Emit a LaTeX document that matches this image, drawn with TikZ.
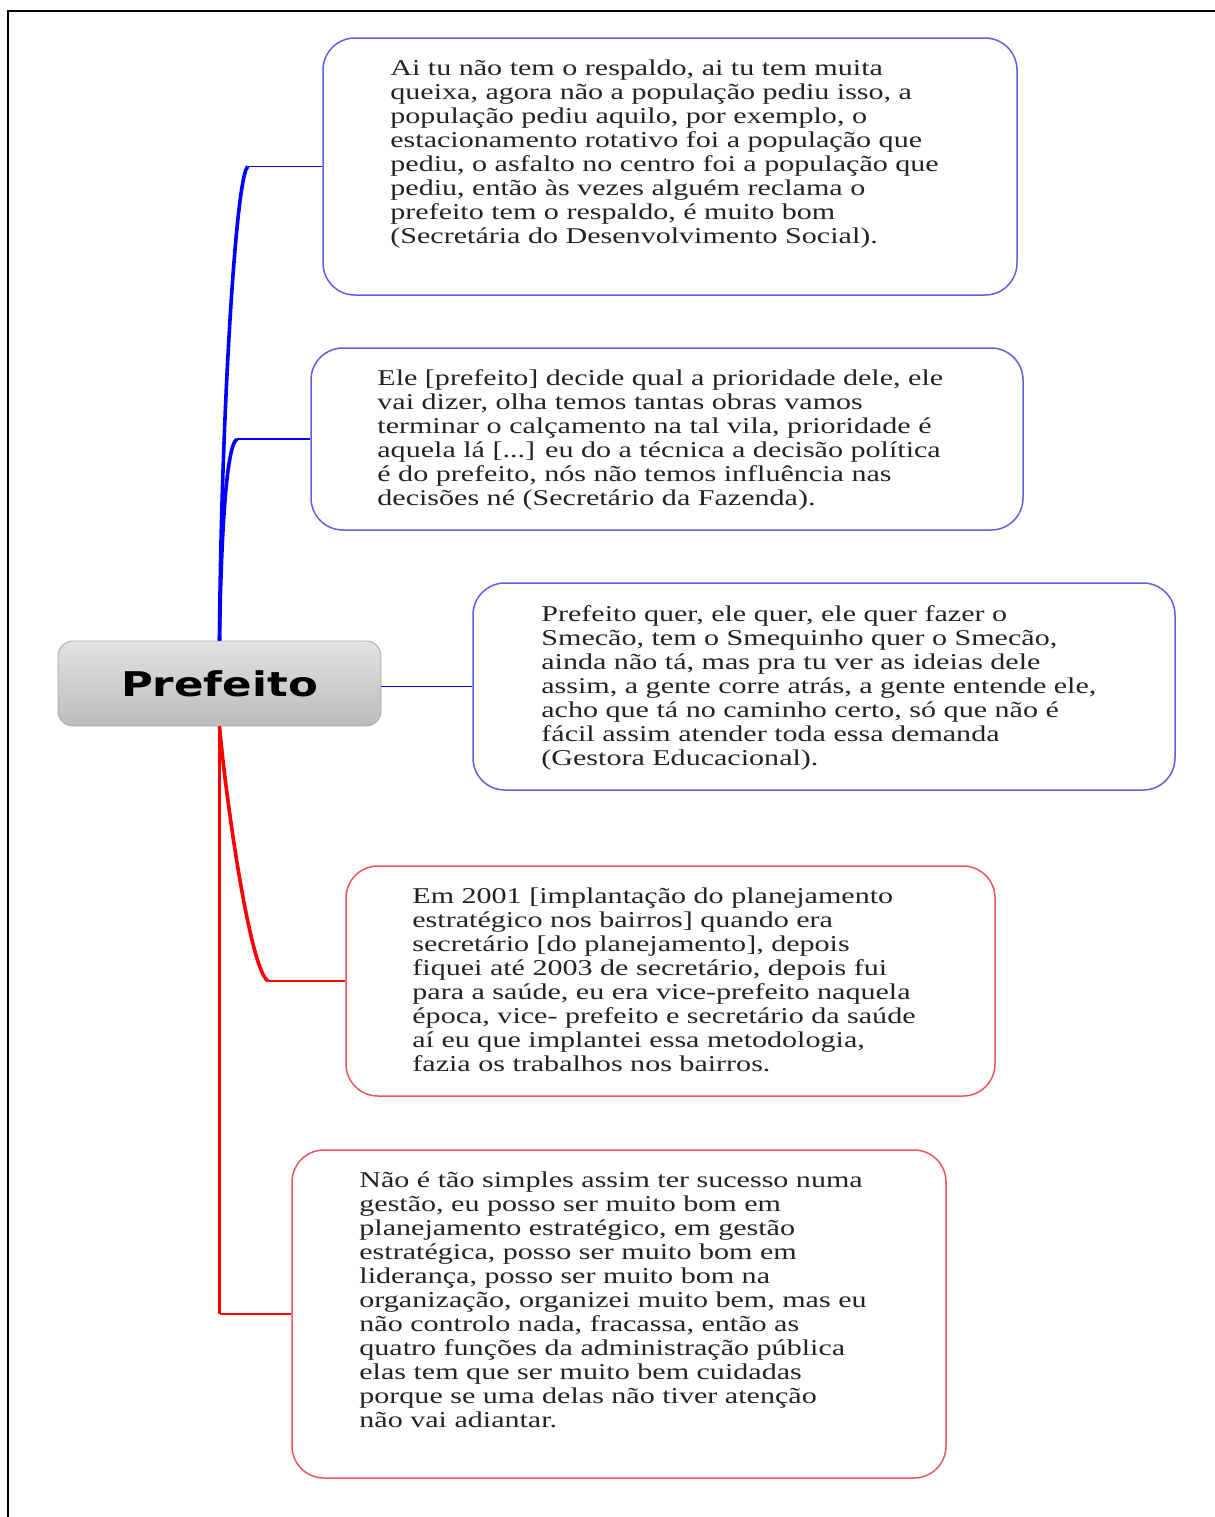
\documentclass[tikz,border=0pt]{standalone}
\usepackage{fontspec}
\setmainfont{Liberation Serif}
\newfontfamily\quotefont{Liberation Serif}[FakeStretch=1.33]
\newfontfamily\headfont{DejaVu Sans}[FakeStretch=1.28]
\definecolor{blu}{RGB}{0,0,255}
\definecolor{blb}{RGB}{95,95,225}
\definecolor{red}{RGB}{255,0,0}
\definecolor{reb}{RGB}{235,85,95}
\definecolor{txt}{RGB}{35,35,35}
\definecolor{grt}{RGB}{226,226,226}
\definecolor{grb}{RGB}{188,188,188}

\begin{document}
\begin{tikzpicture}[x=0.5pt,y=-0.5pt,
    quote/.style={font=\quotefont\fontsize{11.3}{12}\selectfont,text=txt,align=left,inner sep=0pt,anchor=north west},
    bbox/.style={draw=blb,line width=0.75pt,rounded corners=16pt},
    rbox/.style={draw=reb,line width=0.75pt,rounded corners=16pt},
    branch/.style={line width=1.8pt},
    stub/.style={line width=0.7pt}]
    \useasboundingbox (0,0) rectangle (1215,1517);
    \draw[line width=1pt] (8,1517) -- (8,11) -- (1215,11);
    %
    \node[draw=gray!70,rounded corners=7.5pt,top color=grt,bottom color=grb,
          minimum width=161.5pt,minimum height=42.5pt,
          font=\headfont\bfseries\fontsize{17}{20}\selectfont] (pref) at (219.5,683.5) {Prefeito};
    %
    \node[bbox,minimum width=347pt,minimum height=128.5pt] (B1) at (670,166.5) {};
    \node[bbox,minimum width=356pt,minimum height=91pt] (B2) at (667,439) {};
    \node[bbox,minimum width=351pt,minimum height=103.5pt] (B3) at (824,686.5) {};
    \node[rbox,minimum width=324.5pt,minimum height=115pt] (B4) at (670.5,981) {};
    \node[rbox,minimum width=327pt,minimum height=164pt] (B5) at (619,1314) {};
    %
    \node[quote] (Q1) at (390,59) {Ai tu não tem o respaldo, ai tu tem muita\\
        queixa, agora não a população pediu isso, a\\
        população pediu aquilo, por exemplo, o\\
        estacionamento rotativo foi a população que\\
        pediu, o asfalto no centro foi a população que\\
        pediu, então às vezes alguém reclama o\\
        prefeito tem o respaldo, é muito bom\\
        (Secretária do Desenvolvimento Social).};
    \node[quote] (Q2) at (377,369) {Ele [prefeito] decide qual a prioridade dele, ele\\
        vai dizer, olha temos tantas obras vamos\\
        terminar o calçamento na tal vila, prioridade é\\
        aquela lá [...] eu do a técnica a decisão política\\
        é do prefeito, nós não temos influência nas\\
        decisões né (Secretário da Fazenda).};
    \node[quote] (Q3) at (541,605) {Prefeito quer, ele quer, ele quer fazer o\\
        Smecão, tem o Smequinho quer o Smecão,\\
        ainda não tá, mas pra tu ver as ideias dele\\
        assim, a gente corre atrás, a gente entende ele,\\
        acho que tá no caminho certo, só que não é\\
        fácil assim atender toda essa demanda\\
        (Gestora Educacional).};
    \node[quote] (Q4) at (412,887) {Em 2001 [implantação do planejamento\\
        estratégico nos bairros] quando era\\
        secretário [do planejamento], depois\\
        fiquei até 2003 de secretário, depois fui\\
        para a saúde, eu era vice-prefeito naquela\\
        época, vice- prefeito e secretário da saúde\\
        aí eu que implantei essa metodologia,\\
        fazia os trabalhos nos bairros.};
    \node[quote] (Q5) at (359,1171) {Não é tão simples assim ter sucesso numa\\
        gestão, eu posso ser muito bom em\\
        planejamento estratégico, em gestão\\
        estratégica, posso ser muito bom em\\
        liderança, posso ser muito bom na\\
        organização, organizei muito bem, mas eu\\
        não controlo nada, fracassa, então as\\
        quatro funções da administração pública\\
        elas tem que ser muito bem cuidadas\\
        porque se uma delas não tiver atenção\\
        não vai adiantar.};
    %
    \coordinate (E1) at (248,166.5);
    \coordinate (E2) at (237,439);
    \coordinate (E4) at (268,981);
    \coordinate (E5) at (219.5,1314);
    %
    \begin{scope}[blu]
        \draw[branch] (pref.north) .. controls (221,420) and (236,172) .. (E1);
        \draw[branch] (pref.north) .. controls (221,540) and (226,445) .. (E2);
        \draw[stub] (E1) -- (B1.west);
        \draw[stub] (E2) -- (B2.west);
        \draw[stub] (pref.east |- B3.west) -- (B3.west);
    \end{scope}
    \begin{scope}[red]
        \draw[branch] (pref.south) .. controls (226,800) and (250,970) .. (E4);
        \draw[branch] (pref.south) -- (E5);
        \draw[stub] (E4) -- (B4.west);
        \draw[stub] (E5) -- (B5.west);
    \end{scope}
    %
\end{tikzpicture}
\end{document}
